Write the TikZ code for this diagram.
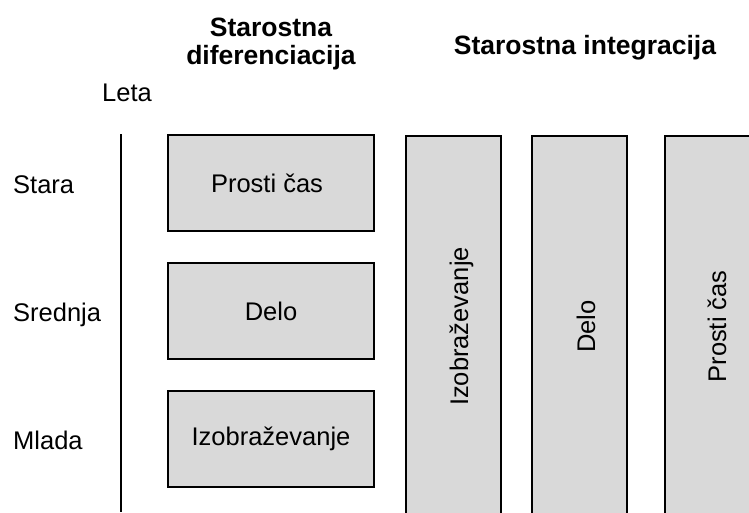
\documentclass[tikz,border=0pt]{standalone}
\usepackage{fontspec}
\setmainfont{Liberation Sans}
\definecolor{boxgray}{HTML}{D9D9D9}
\begin{document}
\begin{tikzpicture}[x=1pt,y=-1pt,
  box/.style={draw=black, line width=1.7pt, fill=boxgray, inner sep=0pt,
    font=\fontsize{25.5}{28}\selectfont},
  hbox/.style={box, minimum width=206pt, minimum height=96pt},
  vbox/.style={box, minimum width=95pt, minimum height=400pt, anchor=north west},
  lbl/.style={font=\fontsize{25.5}{28}\selectfont, inner sep=0pt},
  vlbl/.style={lbl, rotate=90, anchor=base},
  head/.style={font=\bfseries\fontsize{26.5}{28}\selectfont, align=center, inner sep=0pt}]
\useasboundingbox (0,0) rectangle (749,512);
\clip (0,0) rectangle (749,512);

% column headings
\node[head] (hdiff) at (271,44) {Starostna\\diferenciacija};
\node[head, anchor=base] (hint) at (585,54) {Starostna integracija};

% age axis
\node[lbl, anchor=base west] (leta) at (102,101) {Leta};
\coordinate (axtop) at (121,134);
\coordinate (axbot) at (121,512);
\draw[line width=2pt] (axtop) -- (axbot);
\node[lbl, anchor=base west] (stara) at (13,193) {Stara};
\node[lbl, anchor=base west] (srednja) at (13,321) {Srednja};
\node[lbl, anchor=base west] (mlada) at (13,449) {Mlada};

% age differentiation: one activity per age group
\node[hbox] (b1) at (271,183) {};
\node[lbl] (b1t) at (267,183) {Prosti čas};
\node[hbox] (b2) at (271,311) {Delo};
\node[hbox] (b3) at (271,439) {Izobraževanje};

% age integration: every activity spans all ages
\node[vbox] (v1) at (405,135) {};
\node[vbox] (v2) at (531,135) {};
\node[vbox] (v3) at (664,135) {};
\node[vlbl] (t1) at (468,326.5) {Izobraževanje};
\node[vlbl] (t2) at (595,326.5) {Delo};
\node[vlbl] (t3) at (726,326.5) {Prosti čas};
\end{tikzpicture}
\end{document}
